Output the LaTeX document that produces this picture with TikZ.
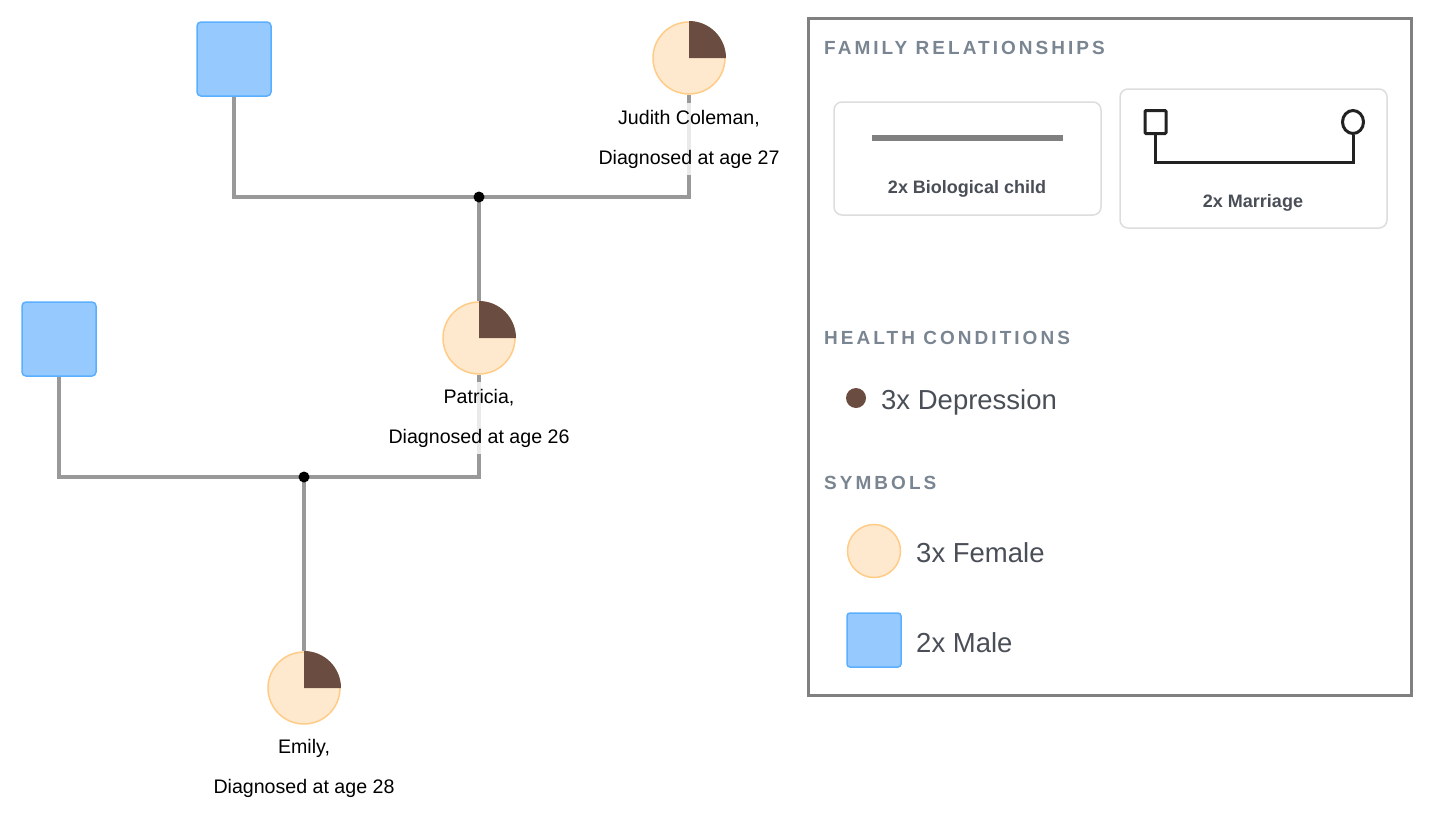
\documentclass[tikz,border=0pt]{standalone}
\usepackage{fontspec}
\usetikzlibrary{shapes.geometric}
\setmainfont{Liberation Sans}
\newfontfamily\headfont{Liberation Sans}[LetterSpace=16]
\definecolor{femfill}{HTML}{FFE9CE}
\definecolor{femdraw}{HTML}{FFCC88}
\definecolor{malefill}{HTML}{96CAFF}
\definecolor{maledraw}{HTML}{5AAFFF}
\definecolor{dep}{HTML}{6B4C40}
\definecolor{connc}{HTML}{999999}
\definecolor{headc}{HTML}{7A8592}
\definecolor{legtext}{HTML}{4A4F57}
\definecolor{legborder}{HTML}{808080}
\definecolor{boxborder}{HTML}{DDDDDD}
\definecolor{iconc}{HTML}{222222}
\tikzset{
  female/.style={circle, fill=femfill, draw=femdraw, line width=1.5pt, minimum size=72pt, inner sep=0pt},
  male/.style={rectangle, rounded corners=4pt, fill=malefill, draw=maledraw, line width=1.5pt, minimum size=74pt, inner sep=0pt},
  connector/.style={draw=connc, line width=4pt},
  junction/.style={circle, fill=black, minimum size=11pt, inner sep=0pt},
  lbl/.style={align=center, fill=white, fill opacity=0.8, text opacity=1, font=\fontsize{19.6}{40}\selectfont, inner xsep=3pt, inner ysep=7pt},
  depwedge/.style={fill=dep},
  legframe/.style={draw=legborder, line width=3pt, minimum width=603pt, minimum height=677pt, inner sep=0pt},
  legcard/.style={draw=boxborder, line width=1.5pt, rounded corners=8pt, fill=white, inner sep=0pt},
  head/.style={anchor=base west, inner sep=0pt, text=headc, font=\headfont\bfseries\fontsize{19}{22}\selectfont},
  cardtext/.style={anchor=base, inner sep=0pt, text=legtext, font=\bfseries\fontsize{18}{22}\selectfont},
  itemtext/.style={anchor=base west, inner sep=0pt, text=legtext, font=\fontsize{27.5}{32}\selectfont},
  icon/.style={draw=iconc, line width=3pt},
}
\begin{document}
\begin{tikzpicture}[x=1pt,y=-1pt]
\useasboundingbox (0,0) rectangle (1430,825);
% people
\node[male] (m1) at (234,59) {};
\node[female] (judith) at (689,58) {};
\node[female] (patricia) at (479,338) {};
\node[male] (m2) at (59,339) {};
\node[female] (emily) at (304,688) {};
\coordinate (jd1) at (479,197);
\coordinate (jd2) at (304,477);
% connectors
\draw[connector] (m1.south) |- (jd1) -| (judith.south);
\draw[connector] (jd1) -- (patricia.north);
\draw[connector] (m2.south) |- (jd2) -| (patricia.south);
\draw[connector] (jd2) -- (emily.north);
\node[junction] (jd1dot) at (jd1) {};
\node[junction] (jd2dot) at (jd2) {};
% depression wedges
\fill[depwedge] (judith.center) -- ++(37,0) arc[start angle=0, end angle=-90, radius=37] -- cycle;
\fill[depwedge] (patricia.center) -- ++(37,0) arc[start angle=0, end angle=-90, radius=37] -- cycle;
\fill[depwedge] (emily.center) -- ++(37,0) arc[start angle=0, end angle=-90, radius=37] -- cycle;
% labels
\node[lbl] (jl) at (689,139) {Judith Coleman,\\Diagnosed at age 27};
\node[lbl] (pl) at (479,418) {Patricia,\\Diagnosed at age 26};
\node[lbl] (el) at (304,768) {Emily,\\Diagnosed at age 28};
% legend
\node[legframe] (leg) at (1109.5,356.5) {};
\node[head] (h1) at (824,54) {FAMILY RELATIONSHIPS};
\node[legcard, minimum width=267pt, minimum height=113pt] (card1) at (967.5,158.5) {};
\node[legcard, minimum width=267pt, minimum height=139pt] (card2) at (1253.5,158.5) {};
\coordinate (bc1) at (872,137.5);
\coordinate (bc2) at (1063,137.5);
\draw[draw=legborder, line width=6pt] (bc1) -- (bc2);
\node[cardtext] (t1) at (967,193.5) {2x Biological child};
\node[cardtext] (t2) at (1253,207) {2x Marriage};
\node[icon, rectangle, rounded corners=1pt, minimum width=21pt, minimum height=23pt, inner sep=0pt] (msq) at (1155.5,122) {};
\node[icon, ellipse, minimum width=21pt, minimum height=23pt, inner sep=0pt] (mci) at (1353,122) {};
\coordinate (mb) at (1254,162);
\draw[icon] (msq.south) |- (mb) -| (mci.south);
\node[head] (h2) at (824,344) {HEALTH CONDITIONS};
\node[circle, fill=dep, minimum size=20pt, inner sep=0pt] (depdot) at (856,398) {};
\node[itemtext] (dt) at (881,409) {3x Depression};
\node[head] (h3) at (824,489) {SYMBOLS};
\node[female, minimum size=53pt] (fsym) at (874,551) {};
\node[itemtext] (ft) at (916,562) {3x Female};
\node[male, minimum size=54pt, rounded corners=3pt] (msym) at (874,640) {};
\node[itemtext] (mt) at (916,652) {2x Male};
\end{tikzpicture}
\end{document}
